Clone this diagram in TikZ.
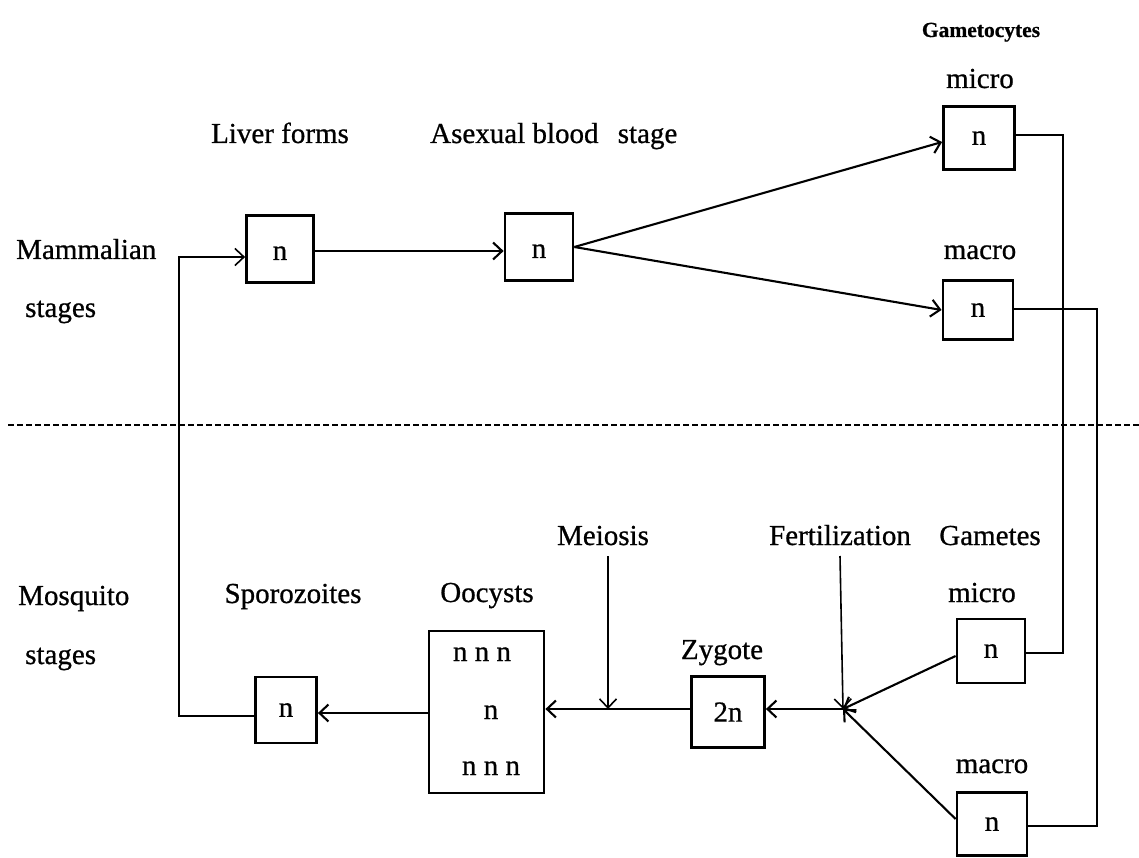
\documentclass[tikz,border=0pt]{standalone}
\usepackage{fontspec}
\setmainfont{Liberation Serif}[FakeBold=0.7]
\usetikzlibrary{arrows.meta}
\begin{document}
\begin{tikzpicture}[x=1pt,y=-1pt,
  stagebox/.style={draw, line width=2.8pt, inner sep=0pt, font=\fontsize{29}{34}\selectfont},
  lowtext/.style={text height=22pt, text depth=0pt},
  lbl/.style={anchor=base, inner sep=0pt, font=\fontsize{29}{34}\selectfont},
  lblw/.style={anchor=base west, inner sep=0pt, font=\fontsize{29}{34}\selectfont},
  conn/.style={line width=2.1pt},
  thinconn/.style={line width=1.6pt},
  arr/.style={-{Straight Barb[length=9pt,width=17pt]}}
]
\fill[white] (0,0) rectangle (1139,858);
\useasboundingbox (0,0) rectangle (1139,858);

% boxes
\node[stagebox, lowtext, minimum width=67pt, minimum height=67pt] (liver) at (280,249) {n};
\node[stagebox, lowtext, minimum width=68pt, minimum height=67pt] (asex) at (539,247) {n};
\node[stagebox, minimum width=71pt, minimum height=63pt] (gmi) at (979,138) {n};
\node[stagebox, minimum width=70pt, minimum height=59pt] (gma) at (978,310) {n};
\node[stagebox, minimum width=61pt, minimum height=66pt] (spo) at (286,710) {n};
\node[stagebox, minimum width=115pt, minimum height=162pt] (ooc) at (486.5,712) {};
\node[stagebox, minimum width=73pt, minimum height=71pt] (zyg) at (728,712) {2n};
\node[stagebox, minimum width=68pt, minimum height=64pt] (emi) at (991,651) {n};
\node[stagebox, minimum width=70pt, minimum height=63pt] (ema) at (992,824) {n};

% oocyst contents
\node[lbl] (ooca) at (482,661) {n n n};
\node[lbl] (oocb) at (491,719) {n};
\node[lbl] (oocc) at (491,775) {n n n};

% labels
\node[anchor=base, inner sep=0pt, font=\fontsize{21.5}{26}\selectfont\bfseries] (gamtitle) at (981,37) {Gametocytes};
\node[lbl] (micro1) at (980,88) {micro};
\node[lbl] (macro1) at (980,259) {macro};
\node[lbl] (liverlbl) at (280,143) {Liver forms};
\node[lblw] (asexlbl) at (430,143) {Asexual blood\hspace{12pt} stage};
\node[lblw] (mam) at (16,259) {Mammalian};
\node[lblw] (mamst) at (25,317) {stages};
\node[lblw] (mos) at (18,605) {Mosquito};
\node[lblw] (mosst) at (25,664) {stages};
\node[lbl] (spolbl) at (293,603) {Sporozoites};
\node[lbl] (ooclbl) at (487,602) {Oocysts};
\node[lbl] (zyglbl) at (722,659) {Zygote};
\node[lbl] (meio) at (603,545) {Meiosis};
\node[lbl] (fert) at (840,545) {Fertilization};
\node[lbl] (gamlbl) at (990,545) {Gametes};
\node[lbl] (micro2) at (982,602) {micro};
\node[lbl] (macro2) at (992,773) {macro};

% divider
\draw[line width=2.4pt, dash pattern=on 6pt off 3pt] (8,425) -- (1139,425);

% junctions
\coordinate (J) at (843,709);
\coordinate (mtop) at (608,556);
\coordinate (ftop) at (840,556);
\coordinate (lc1) at (179,716);
\coordinate (lc2) at (179,257);
\coordinate (rc1) at (1063,135);
\coordinate (rc2) at (1063,653);
\coordinate (rd1) at (1097,309);
\coordinate (rd2) at (1097,826);

% mammalian connectors
\draw[conn, arr] (liver.east |- 0,251) -- (asex.west |- 0,251);
\draw[conn, arr] (asex.east) -- (gmi.west |- 0,142);
\draw[conn, arr] (asex.east) -- (gma.west);

% gametocytes to gametes
\draw[thinconn] (gmi.east |- rc1) -- (rc1) -- (rc2) -- (emi.east |- rc2);
\draw[thinconn] (gma.east |- rd1) -- (rd1) -- (rd2) -- (ema.east |- rd2);

% gametes to junction
\draw[conn, arr] (emi.west |- 0,656) -- (J);
\draw[conn, arr] (ema.west |- 0,819) -- (J);
\draw[thinconn, arr] (ftop) -- (J);
\draw[conn, arr] (J) -- (zyg.east |- J);
\draw[conn, arr] (zyg.west |- J) -- (ooc.east |- J);
\draw[thinconn, arr] (mtop) -- (mtop |- J);
\draw[conn, arr] (ooc.west |- 0,713) -- (spo.east |- 0,713);
\draw[thinconn, arr] (spo.west |- lc1) -- (lc1) -- (lc2) -- (liver.west |- lc2);
\end{tikzpicture}
\end{document}
